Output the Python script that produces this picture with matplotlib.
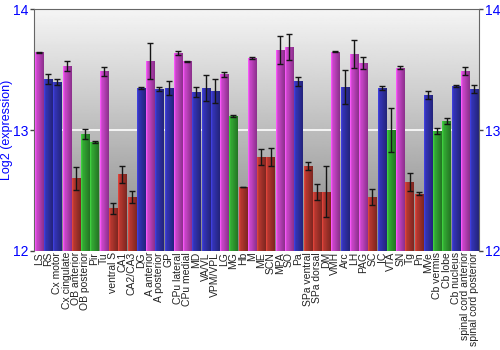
import numpy as np
import matplotlib
matplotlib.use("Agg")
from matplotlib import pyplot as plt
from matplotlib.colors import to_rgb

plt.rcParams['font.family'] = ['Liberation Sans', 'DejaVu Sans']

regions = ["LS", "RS", "Cx motor", "Cx cingulate", "OB anterior", "OB posterior",
           "Pir", "Tu", "ventral S", "CA1", "CA2/CA3", "DG", "A anterior",
           "A posterior", "GP", "CPu lateral", "CPu medial", "MD", "VA/VL",
           "VPM/VPL", "LG", "MG", "Hb", "M", "ME", "SCN", "MPA", "SO", "Pa",
           "SPa ventral", "SPa dorsal", "DM", "VMH", "Arc", "LH", "PAG", "SC",
           "IC", "VTA", "SN", "Tg", "Pn", "MVe", "Cb vermis", "Cb lobe",
           "Cb nucleus", "spinal cord anterior", "spinal cord posterior"]

expression = [13.644, 13.425, 13.395, 13.528, 12.60, 12.967,
              12.90, 13.486, 12.351, 12.635, 12.447, 13.348, 13.569,
              13.34, 13.35, 13.64, 13.569, 13.315, 13.348,
              13.326, 13.46, 13.116, 12.528, 13.597, 12.776, 12.776, 13.663, 13.69, 13.403,
              12.702, 12.484, 12.49, 13.649, 13.354, 13.63, 13.555, 12.445,
              13.348, 13.0, 13.516, 12.569, 12.472, 13.29, 12.989, 13.072,
              13.365, 13.489, 13.342]

errors = [0.004, 0.04, 0.025, 0.04, 0.095, 0.04,
          0.005, 0.04, 0.045, 0.07, 0.05, 0.01, 0.15,
          0.015, 0.06, 0.015, 0.002, 0.04, 0.11,
          0.1, 0.017, 0.006, 0.003, 0.01, 0.07, 0.077, 0.12, 0.106, 0.04,
          0.03, 0.065, 0.21, 0.004, 0.14, 0.115, 0.047, 0.07,
          0.015, 0.18, 0.011, 0.075, 0.014, 0.036, 0.026, 0.024,
          0.01, 0.033, 0.035]

# m = magenta, b = blue, r = red, g = green
groups = "mbbmrggmrrrbmbbmmbbbmgrmrrmmbrrrmbmmrbgmrrbggbmb"

palette = {"m": "#c444c4", "b": "#3232ae", "r": "#b0362e", "g": "#32a432"}

fig = plt.figure(figsize=(5, 3.5), dpi=100)
ax = fig.add_axes([0.0686, 0.2837, 0.8894, 0.6897])

n = len(regions)
x = np.arange(n)
ax.set_xlim(-0.5, n - 0.5)
ax.set_ylim(12, 14)

# grey gradient background
grad = np.linspace(0.52, 0.96, 256).reshape(-1, 1)
ax.imshow(grad, cmap="gray", vmin=0, vmax=1, aspect="auto", origin="lower",
          extent=(-0.5, n - 0.5, 12, 14), zorder=0)
ax.axhline(13, color="white", lw=1.2, zorder=1)

# bars with horizontal shading
width = 0.88
shade = np.concatenate([np.linspace(1.3, 1.0, 3), np.linspace(1.0, 0.72, 8)])
for xi, val, grp in zip(x, expression, groups):
    base = np.array(to_rgb(palette[grp]))
    img = np.clip(base[None, None, :] * shade[None, :, None], 0, 1)
    bar = ax.bar(xi, val - 12, bottom=12, width=width, color="none", zorder=2)[0]
    im = ax.imshow(img, aspect="auto", extent=(xi - width / 2, xi + width / 2, 12, val),
                   zorder=2, interpolation="bilinear")
    im.set_clip_path(bar)

ax.errorbar(x, expression, yerr=errors, fmt="none", ecolor="#151515",
            elinewidth=1, capsize=2, capthick=1, zorder=3)

ax.set_xticks(x)
ax.set_xticklabels(regions, rotation=90, fontsize=7.5, color="#222222")
ax.set_yticks([12, 13, 14])
ax.tick_params(axis="y", colors="blue", labelsize=10, length=3, width=1, pad=1,
               right=True, labelright=True)
ax.tick_params(axis="y", which="both", color="#444444")
ax.tick_params(axis="x", length=0, pad=1)
ax.set_ylabel("Log2 (expression)", color="blue", fontsize=9, labelpad=0)

for side in ["left", "right", "top"]:
    ax.spines[side].set_color("#666666")
ax.spines["bottom"].set_visible(False)

fig.savefig("out.png", dpi=100)
